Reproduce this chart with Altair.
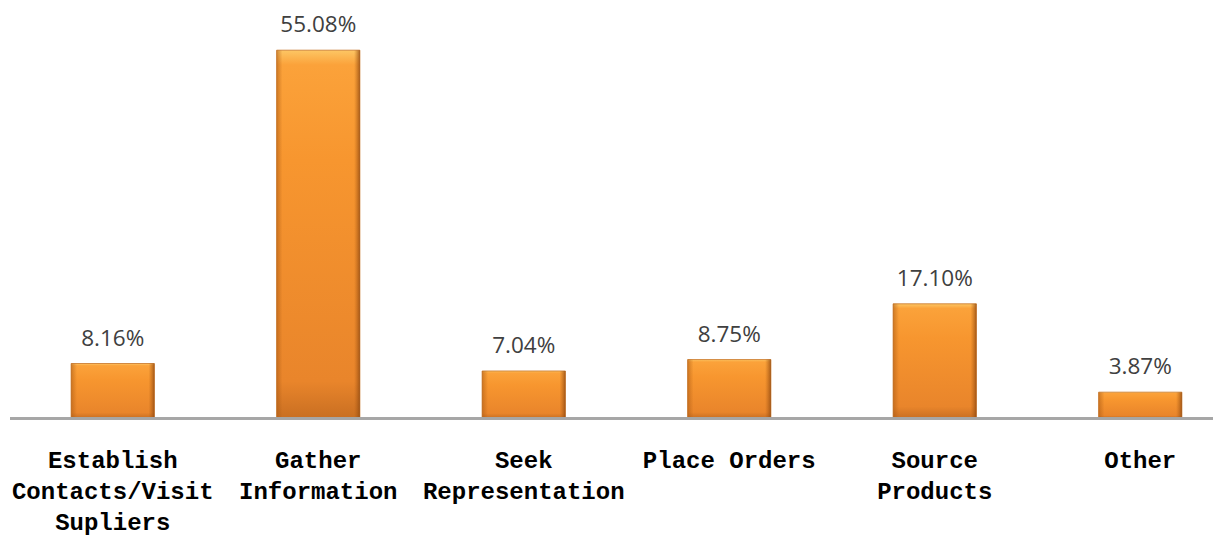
import altair as alt
import pandas as pd

categories = [
    "Establish\nContacts/Visit\nSupliers",
    "Gather\nInformation",
    "Seek\nRepresentation",
    "Place Orders",
    "Source\nProducts",
    "Other",
]
values = [8.16, 55.08, 7.04, 8.75, 17.10, 3.87]

df = pd.DataFrame({"category": categories, "value": values})

W, H = 1203, 400

x_enc = alt.X(
    "category:N",
    sort=categories,
    scale=alt.Scale(range=[0, 1233], paddingInner=0.595, paddingOuter=0.2975),
    axis=alt.Axis(
        title=None,
        ticks=False,
        domain=False,
        labelAngle=0,
        labelExpr="split(datum.label, '\\n')",
        labelFont="Liberation Mono",
        labelFontWeight="bold",
        labelFontSize=24,
        labelColor="#000000",
        labelPadding=30,
        labelLineHeight=31,
        labelLimit=400,
    ),
)
y_enc = alt.Y("value:Q", scale=alt.Scale(domain=[0, 59.9], nice=False), axis=None)

fill_grad = alt.Gradient(
    gradient="linear",
    x1=0, y1=0, x2=0, y2=1,
    stops=[
        alt.GradientStop(color="#fdc664", offset=0),
        alt.GradientStop(color="#fba23a", offset=0.04),
        alt.GradientStop(color="#f7962f", offset=0.3),
        alt.GradientStop(color="#e9852b", offset=0.9),
        alt.GradientStop(color="#c96f22", offset=1),
    ],
)
edge_grad = alt.Gradient(
    gradient="linear",
    x1=0, y1=0, x2=1, y2=0,
    stops=[
        alt.GradientStop(color="rgba(170,90,20,0.55)", offset=0),
        alt.GradientStop(color="rgba(170,90,20,0)", offset=0.07),
        alt.GradientStop(color="rgba(170,90,20,0)", offset=0.93),
        alt.GradientStop(color="rgba(140,70,15,0.75)", offset=1),
    ],
)

base = alt.Chart(df).encode(x=x_enc, y=y_enc)

bars = base.mark_bar(color=fill_grad, stroke="#c77224", strokeWidth=0.8)
edges = base.mark_bar(color=edge_grad)

labels = base.transform_calculate(
    label="format(datum.value, '.2f') + '%'"
).mark_text(
    font="Open Sans", fontSize=22.5, color="#404040", baseline="alphabetic", dy=-18
).encode(text="label:N")

baseline = alt.Chart(df).mark_rule(color="#a6a6a6", strokeWidth=2).encode(
    x=alt.value(0), x2=alt.value(W), y=alt.value(H + 0.5)
)

chart = (
    alt.layer(bars, edges, labels, baseline)
    .properties(
        width=W,
        height=H,
        background="#ffffff",
        autosize=alt.AutoSizeParams(type="none"),
        padding={"left": 2, "top": 10, "right": 0, "bottom": 118},
    )
    .configure_view(stroke="transparent", strokeWidth=0)
)

chart.save("out.html", embed_options={"renderer": "svg", "actions": False})
